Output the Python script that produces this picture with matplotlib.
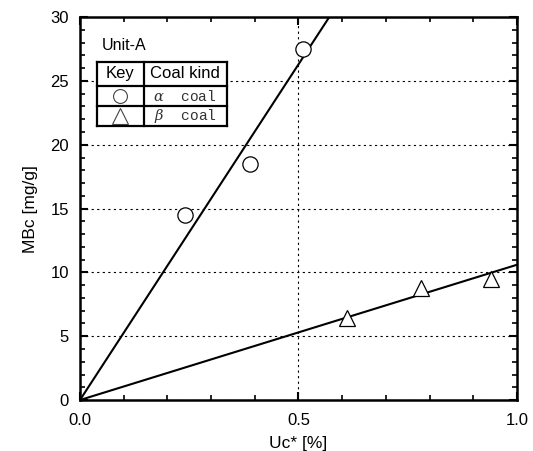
import numpy as np
import matplotlib.pyplot as plt
from matplotlib.ticker import MultipleLocator

plt.rcParams['font.family'] = ['Liberation Sans', 'DejaVu Sans']
plt.rcParams['mathtext.fontset'] = 'dejavuserif'

# measured points
alpha_x = [0.24, 0.39, 0.51]
alpha_y = [14.5, 18.5, 27.5]
beta_x = [0.61, 0.78, 0.94]
beta_y = [6.4, 8.8, 9.5]

# fitted line slopes (through origin)
alpha_slope = 52.6
beta_slope = 10.6

fig = plt.figure(figsize=(5.33, 4.51), dpi=100)
ax = fig.add_axes([0.150, 0.113, 0.820, 0.849])

xs = np.array([0.0, 1.0])
ax.plot(xs, alpha_slope * xs, color='black', lw=1.5, zorder=3)
ax.plot(xs, beta_slope * xs, color='black', lw=1.5, zorder=3)
ax.plot(alpha_x, alpha_y, 'o', ms=11, mfc='white', mec='black', mew=0.9, zorder=4)
ax.plot(beta_x, beta_y, '^', ms=12, mfc='white', mec='black', mew=0.9, zorder=4)

ax.set_xlim(0, 1.0)
ax.set_ylim(0, 30)
ax.xaxis.set_major_locator(MultipleLocator(0.5))
ax.xaxis.set_minor_locator(MultipleLocator(0.1))
ax.yaxis.set_major_locator(MultipleLocator(5))
ax.yaxis.set_minor_locator(MultipleLocator(1))
ax.xaxis.set_major_formatter(plt.FuncFormatter(lambda v, p: f'{v:.1f}'))
ax.tick_params(which='both', direction='in', top=True, right=True, labelsize=12)
ax.tick_params(axis='x', pad=9)
ax.tick_params(axis='y', pad=8)
ax.tick_params(which='major', length=6, width=1.5)
ax.tick_params(which='minor', length=3.5, width=1.2)
for s in ax.spines.values():
    s.set_linewidth(1.8)
ax.grid(which='major', color='black', ls=(0, (2, 3)), lw=0.8)

ax.set_xlabel('Uc* [%]', fontsize=12.5, labelpad=6)
ax.set_ylabel('MBc [mg/g]', fontsize=12.5, labelpad=9)

ax.text(0.05, 0.925, 'Unit-A', transform=ax.transAxes, fontsize=11.5, va='center')

# key table
tx0, tx1, tx2 = 0.039, 0.146, 0.336
ty = [0.883, 0.820, 0.768, 0.716]
for y in ty:
    ax.plot([tx0, tx2], [y, y], color='black', lw=1.6, transform=ax.transAxes, zorder=5, clip_on=False)
for x in [tx0, tx1, tx2]:
    ax.plot([x, x], [ty[0], ty[-1]], color='black', lw=1.6, transform=ax.transAxes, zorder=5, clip_on=False)
ax.add_patch(plt.Rectangle((tx0, ty[-1]), tx2 - tx0, ty[0] - ty[-1], transform=ax.transAxes,
                           facecolor='white', edgecolor='none', zorder=4.5))
cx = (tx0 + tx1) / 2
kx = (tx1 + tx2) / 2
ax.text(cx, (ty[0] + ty[1]) / 2, 'Key', transform=ax.transAxes, ha='center', va='center', fontsize=12, zorder=6)
ax.text(kx, (ty[0] + ty[1]) / 2, 'Coal kind', transform=ax.transAxes, ha='center', va='center', fontsize=12, zorder=6)
ax.plot(cx, (ty[1] + ty[2]) / 2, 'o', ms=10, mfc='white', mec='#444444', mew=0.8, transform=ax.transAxes, zorder=6)
ax.plot(cx, (ty[2] + ty[3]) / 2, '^', ms=11, mfc='white', mec='#444444', mew=0.8, transform=ax.transAxes, zorder=6)
ax.text(kx, (ty[1] + ty[2]) / 2, r'$\alpha$  coal', transform=ax.transAxes, ha='center', va='center',
        fontsize=10.5, family=['Liberation Mono', 'DejaVu Sans Mono'], color='#333333', zorder=6)
ax.text(kx, (ty[2] + ty[3]) / 2, r'$\beta$  coal', transform=ax.transAxes, ha='center', va='center',
        fontsize=10.5, family=['Liberation Mono', 'DejaVu Sans Mono'], color='#333333', zorder=6)

fig.savefig('out.png', dpi=100)
